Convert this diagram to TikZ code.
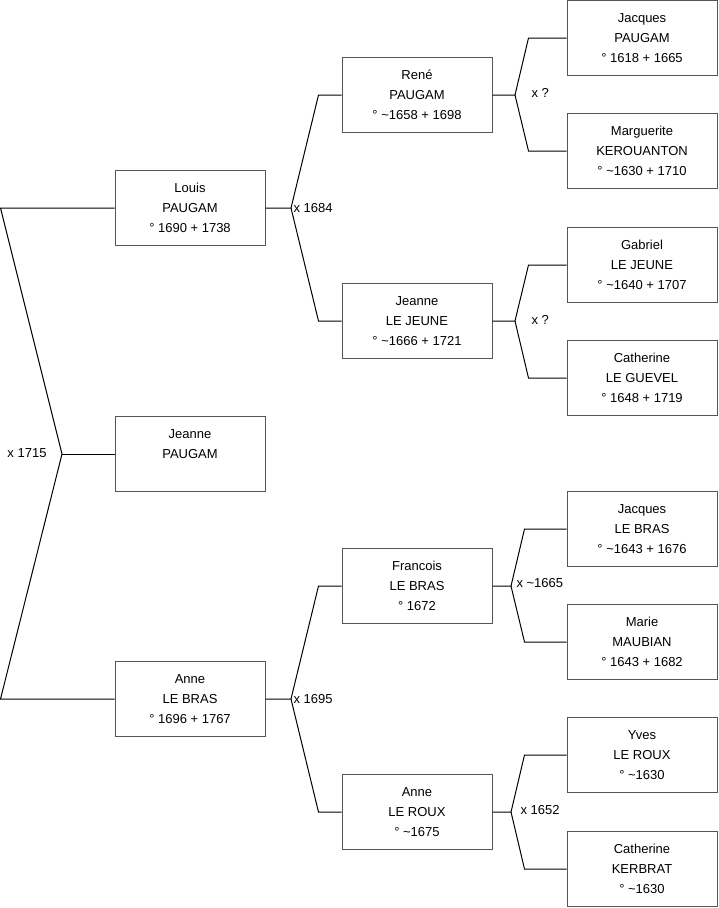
\documentclass[tikz,border=0pt]{standalone}
\usepackage{fontspec}
\setmainfont{Liberation Sans}
\usetikzlibrary{positioning}
\definecolor{cframe}{HTML}{555555}
\tikzset{
  every picture/.style={line width=1pt},
  person/.style={draw=cframe, fill=white, align=center, minimum width=150pt, minimum height=75pt, inner sep=0pt, font=\fontsize{13}{20}\selectfont},
  union/.style={inner sep=0pt, font=\fontsize{13}{15}\selectfont},
  link/.style={draw=black, line width=1pt},
}

\begin{document}
\begin{tikzpicture}[x=1pt, y=-1pt]
  \useasboundingbox (0,0) rectangle (719,908);
  \node[person] (louis) at (190,208) {Louis\\PAUGAM\\° 1690 + 1738};
  \node[person] (jeanne) at (190,454) {Jeanne\\PAUGAM\\~};
  \node[person] (anne) at (190,699) {Anne\\LE BRAS\\° 1696 + 1767};
  \node[person] (rene) at (417,95) {René\\PAUGAM\\° \textasciitilde1658 + 1698};
  \node[person] (jeanneJ) at (417,321) {Jeanne\\LE JEUNE\\° \textasciitilde1666 + 1721};
  \node[person] (francois) at (417,586) {Francois\\LE BRAS\\° 1672};
  \node[person] (anneR) at (417,812) {Anne\\LE ROUX\\° \textasciitilde1675};
  \node[person] (jacques) at (642,38) {Jacques\\PAUGAM\\° 1618 + 1665};
  \node[person] (marguerite) at (642,151) {Marguerite\\KEROUANTON\\° \textasciitilde1630 + 1710};
  \node[person] (gabriel) at (642,265) {Gabriel\\LE JEUNE\\° \textasciitilde1640 + 1707};
  \node[person] (catherineG) at (642,378) {Catherine\\LE GUEVEL\\° 1648 + 1719};
  \node[person] (jacquesB) at (642,529) {Jacques\\LE BRAS\\° \textasciitilde1643 + 1676};
  \node[person] (marie) at (642,642) {Marie\\MAUBIAN\\° 1643 + 1682};
  \node[person] (yves) at (642,755) {Yves\\LE ROUX\\° \textasciitilde1630};
  \node[person] (catherineK) at (642,869) {Catherine\\KERBRAT\\° \textasciitilde1630};

  \coordinate (root) at (62,454);
  \coordinate (mL) at (291,208);
  \coordinate (mA) at (291,699);
  \coordinate (mR) at (515,95);
  \coordinate (mJ) at (515,321);
  \coordinate (mF) at (511,586);
  \coordinate (mN) at (511,812);

  \draw[link] (louis.west) -- ([xshift=-114pt]louis.west) -- (root) -- ([xshift=-114pt]anne.west) -- (anne.west);
  \draw[link] (root) -- (jeanne.west);
  \draw[link] (louis.east) -- (mL) -- ([xshift=-23pt]rene.west) -- (rene.west);
  \draw[link] (mL) -- ([xshift=-23pt]jeanneJ.west) -- (jeanneJ.west);
  \draw[link] (anne.east) -- (mA) -- ([xshift=-23pt]francois.west) -- (francois.west);
  \draw[link] (mA) -- ([xshift=-23pt]anneR.west) -- (anneR.west);
  \draw[link] (rene.east) -- (mR) -- ([xshift=-38pt]jacques.west) -- (jacques.west);
  \draw[link] (mR) -- ([xshift=-38pt]marguerite.west) -- (marguerite.west);
  \draw[link] (jeanneJ.east) -- (mJ) -- ([xshift=-38pt]gabriel.west) -- (gabriel.west);
  \draw[link] (mJ) -- ([xshift=-38pt]catherineG.west) -- (catherineG.west);
  \draw[link] (francois.east) -- (mF) -- ([xshift=-42pt]jacquesB.west) -- (jacquesB.west);
  \draw[link] (mF) -- ([xshift=-42pt]marie.west) -- (marie.west);
  \draw[link] (anneR.east) -- (mN) -- ([xshift=-42pt]yves.west) -- (yves.west);
  \draw[link] (mN) -- ([xshift=-42pt]catherineK.west) -- (catherineK.west);

  \node[union, anchor=east] (u0) at (47,453) {x 1715};
  \node[union, anchor=west] (u1) at (293,208) {x 1684};
  \node[union, anchor=west] (u2) at (293,699) {x 1695};
  \node[union, anchor=west] (u3) at (531,93) {x ?};
  \node[union, anchor=west] (u4) at (531,320) {x ?};
  \node[union, anchor=west] (u5) at (516,583) {x \textasciitilde1665};
  \node[union, anchor=west] (u6) at (520,810) {x 1652};
\end{tikzpicture}
\end{document}
